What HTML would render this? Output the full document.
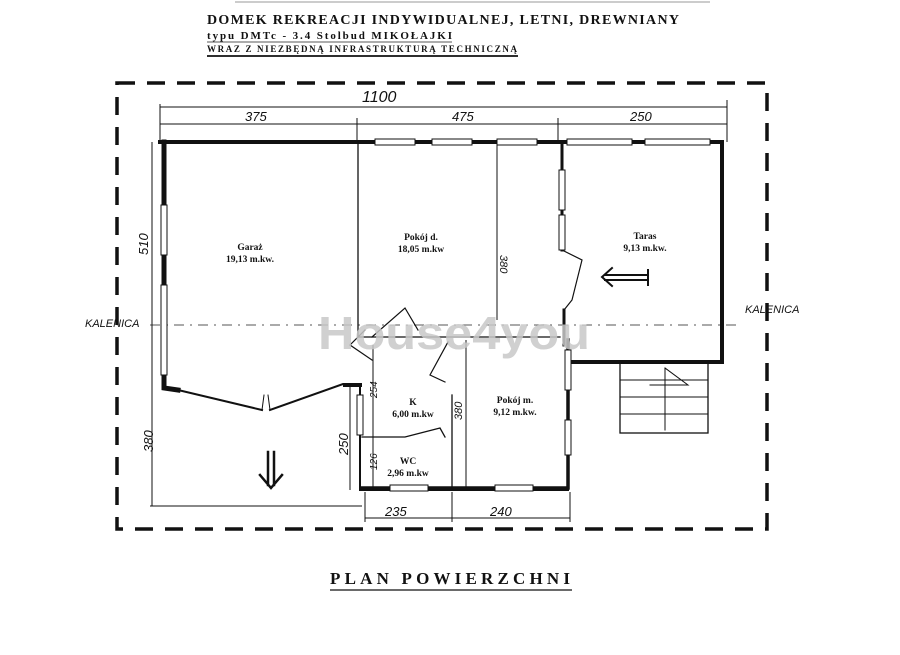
<!DOCTYPE html>
<html><head><meta charset="utf-8"><style>
html,body{margin:0;padding:0;background:#fff}
svg{display:block}
.t{font-family:"Liberation Serif",serif;font-weight:bold;fill:#111}
.h{font-family:"Liberation Sans",sans-serif;font-style:italic;fill:#111}
</style></head><body>
<svg width="900" height="655" viewBox="0 0 900 655" xmlns="http://www.w3.org/2000/svg">
<rect width="900" height="655" fill="#fff"/>
<line x1="235" y1="2" x2="710" y2="2" stroke="#999" stroke-width="1"/>
<text x="207" y="24" class="t" font-size="14" textLength="472" lengthAdjust="spacing">DOMEK  REKREACJI  INDYWIDUALNEJ,  LETNI,  DREWNIANY</text>
<text x="207" y="39" class="t" font-size="11" textLength="245" lengthAdjust="spacing">typu  DMTc - 3.4   Stolbud  MIKOŁAJKI</text>
<line x1="207" y1="42" x2="452" y2="42" stroke="#222" stroke-width="0.8"/>
<text x="207" y="52" class="t" font-size="9" textLength="310" lengthAdjust="spacing">WRAZ  Z  NIEZBĘDNĄ  INFRASTRUKTURĄ  TECHNICZNĄ</text>
<line x1="207" y1="56" x2="518" y2="56" stroke="#111" stroke-width="1.8"/>
<rect x="117" y="83" width="650" height="446" fill="none" stroke="#111" stroke-width="3.5" stroke-dasharray="18,12"/>
<line x1="150" y1="325" x2="740" y2="325" stroke="#555" stroke-width="1" stroke-dasharray="10,6,2,6"/>
<text x="85" y="327" class="h" font-size="11">KALENICA</text>
<text x="745" y="313" class="h" font-size="11">KALENICA</text>
<g stroke="#111" stroke-width="1" fill="none">
<line x1="160" y1="107" x2="727" y2="107"/>
<line x1="160" y1="124" x2="727" y2="124"/>
<line x1="160" y1="104" x2="160" y2="142"/><line x1="357" y1="118" x2="357" y2="142"/>
<line x1="558" y1="118" x2="558" y2="142"/><line x1="727" y1="100" x2="727" y2="142"/>
<line x1="152" y1="142" x2="152" y2="390"/>
<line x1="152" y1="340" x2="152" y2="506"/>
<line x1="150" y1="506" x2="362" y2="506"/>
<line x1="350" y1="385" x2="350" y2="490"/>
<line x1="373" y1="345" x2="373" y2="437"/>
<line x1="373" y1="437" x2="373" y2="490"/>
<line x1="497" y1="145" x2="497" y2="320"/>
<line x1="466" y1="340" x2="466" y2="490"/>
<line x1="365" y1="518" x2="570" y2="518"/>
<line x1="365" y1="492" x2="365" y2="522"/><line x1="452" y1="492" x2="452" y2="522"/><line x1="570" y1="492" x2="570" y2="522"/>
</g>
<g class="h" font-size="13">
<text x="362" y="102" font-size="16">1100</text>
<text x="245" y="121">375</text><text x="452" y="121">475</text><text x="630" y="121">250</text>
<text x="385" y="516">235</text><text x="490" y="516">240</text>
<text transform="translate(148,255) rotate(-90)">510</text>
<text transform="translate(153,452) rotate(-90)">380</text>
<text transform="translate(348,455) rotate(-90)">250</text>
<text transform="translate(377,398) rotate(-90)" font-size="10">254</text>
<text transform="translate(377,470) rotate(-90)" font-size="10">126</text>
<text transform="translate(500,255) rotate(90)" font-size="11">380</text>
<text transform="translate(462,420) rotate(-90)" font-size="11">380</text>
</g>
<g stroke="#111" fill="none" stroke-linecap="square">
<path d="M160 142 L722 142 L722 362 L567 362" stroke-width="4"/>
<path d="M164 142 L164 388 L178 390" stroke-width="5"/>
<path d="M178 390 L262 410 M270 410 L343 384 L360 384 L360 490 L568 490 L568 340" stroke-width="2"/>
<path d="M345 385 L360 385" stroke-width="4"/>
<path d="M362 488 L568 488 L568 340" stroke-width="3.5"/>
<path d="M562 142 L562 250 M564 310 L564 345" stroke-width="3"/>
<path d="M358 142 L358 337 L430 337 L560 337" stroke-width="1.3"/>
<path d="M452 395 L452 488" stroke-width="1.3"/>
<path d="M362 437 L405 437 L440 428 L445 437" stroke-width="1.3"/>
<path d="M562 250 L582 260 L572 300 L564 310" stroke-width="1.2"/>
<path d="M372 337 L405 308 L418 330" stroke-width="1.2"/>
<path d="M372 360 L350 345 L365 330" stroke-width="1.2"/>
<path d="M448 342 L430 375 L445 382" stroke-width="1.2"/>
<path d="M264 395 L262 410 M268 395 L270 410" stroke-width="1"/>
<g stroke-width="1" fill="#fff">
<rect x="375" y="139" width="40" height="6"/><rect x="432" y="139" width="40" height="6"/><rect x="497" y="139" width="40" height="6"/>
<rect x="567" y="139" width="65" height="6"/><rect x="645" y="139" width="65" height="6"/>
<rect x="161" y="205" width="6" height="50"/><rect x="161" y="285" width="6" height="90"/>
<rect x="559" y="170" width="6" height="40"/><rect x="559" y="215" width="6" height="35"/>
<rect x="565" y="350" width="6" height="40"/><rect x="565" y="420" width="6" height="35"/>
<rect x="357" y="395" width="6" height="40"/>
<rect x="390" y="485" width="38" height="6"/><rect x="495" y="485" width="38" height="6"/>
</g>
<rect x="620" y="363" width="88" height="70" stroke-width="1.3"/>
<path d="M620 380 L708 380 M620 397 L708 397 M620 414 L708 414" stroke-width="1"/>
<path d="M665 368 L665 430 M650 385 L688 385 L665 368" stroke-width="1"/>
<path d="M268 452 L268 485 M274 452 L274 485 M260 475 L271 488 L282 475" stroke-width="2.5"/>
<path d="M605 275 L648 275 M605 280 L648 280 M648 270 L648 285 M612 268 L602 277 L612 286" stroke-width="2"/>
</g>
<text x="318" y="349" font-family="Liberation Sans,sans-serif" font-weight="bold" font-size="46" fill="#c8c8c8" fill-opacity="0.85" textLength="272" lengthAdjust="spacingAndGlyphs">House4you</text>
<g class="t" font-size="9.5" text-anchor="middle" font-weight="normal">
<text x="250" y="250">Garaż</text><text x="250" y="262">19,13 m.kw.</text>
<text x="421" y="240">Pokój d.</text><text x="421" y="252">18,05 m.kw</text>
<text x="645" y="239">Taras</text><text x="645" y="251">9,13 m.kw.</text>
<text x="413" y="405">K</text><text x="413" y="417">6,00 m.kw</text>
<text x="408" y="464">WC</text><text x="408" y="476">2,96 m.kw</text>
<text x="515" y="403">Pokój  m.</text><text x="515" y="415">9,12 m.kw.</text>
</g>
<text x="330" y="584" class="t" font-size="17" textLength="240" lengthAdjust="spacing">PLAN   POWIERZCHNI</text>
<line x1="330" y1="590" x2="572" y2="590" stroke="#111" stroke-width="1.2"/>
</svg>
</body></html>
